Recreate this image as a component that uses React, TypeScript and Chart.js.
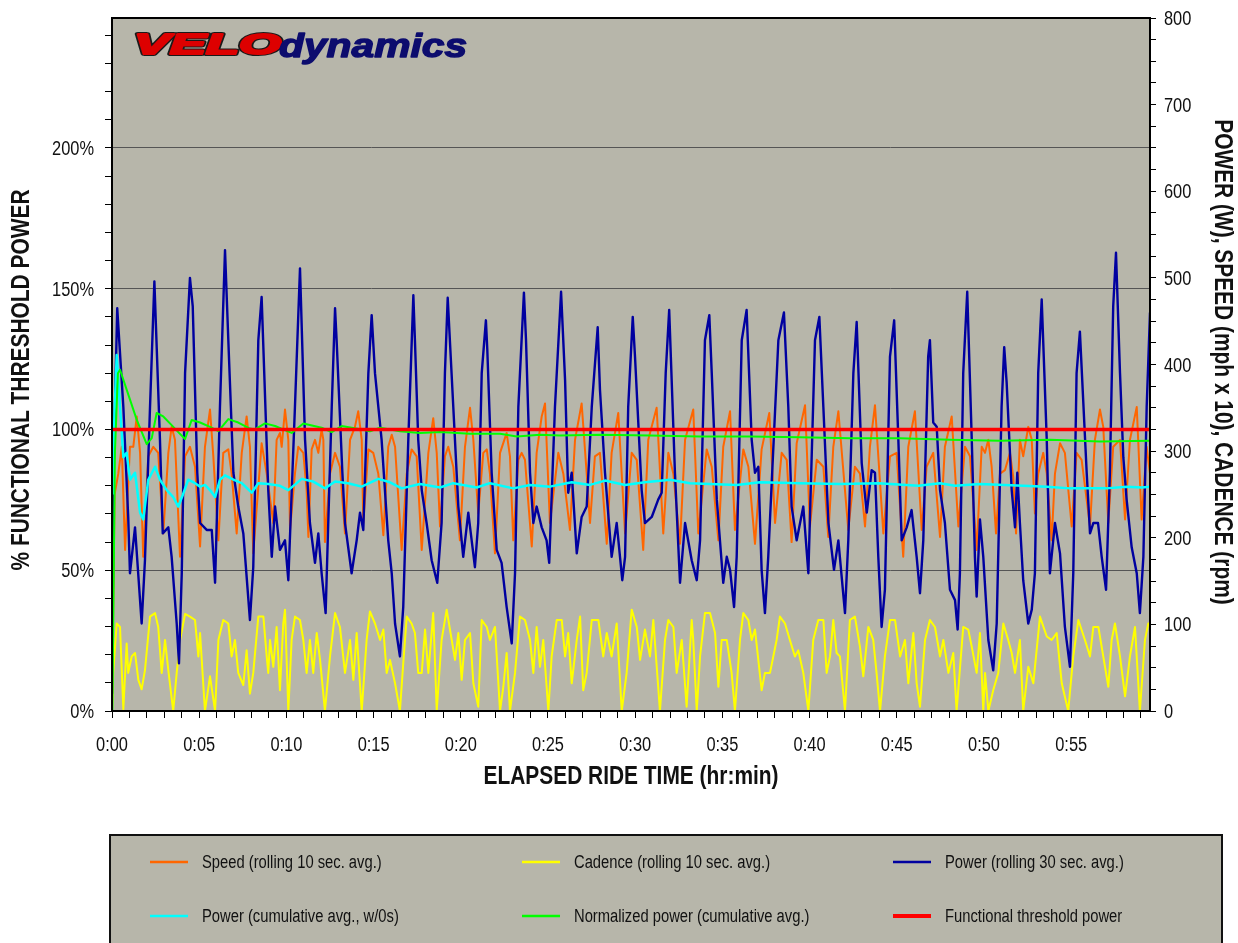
import React, { useEffect, useRef } from "react";
import { Chart, registerables } from "chart.js";

Chart.register(...registerables);

// ---------- DATA ----------
const FTP = 325; // watts (100%)
const X_MAX = 59.52; // minutes
const RIGHT_MAX = 800;

// [minutes, watts] power rolling 30 s
const powerData: [number, number][] = [
  [0, 20], [0.11, 300], [0.3, 465], [0.65, 351], [0.93, 224], [1.03, 159], [1.32, 212], [1.7, 101], [1.89, 174],
  [2.18, 351], [2.43, 496], [2.75, 313], [2.91, 205], [3.23, 212], [3.42, 178], [3.71, 101], [3.84, 55], [4.0, 159],
  [4.19, 390], [4.47, 500], [4.63, 467], [4.89, 275], [5.05, 217], [5.43, 209], [5.72, 209], [5.91, 148], [6.19, 351],
  [6.48, 532], [6.67, 428], [6.96, 275], [7.24, 236], [7.53, 205], [7.91, 105], [8.1, 166], [8.39, 428], [8.58, 478],
  [8.96, 255], [9.16, 178], [9.35, 236], [9.63, 186], [9.92, 197], [10.11, 151], [10.49, 351], [10.78, 511], [11.07, 313],
  [11.35, 217], [11.64, 171], [11.83, 205], [12.02, 159], [12.25, 113], [12.4, 217], [12.6, 351], [12.79, 465], [12.88, 428],
  [13.21, 275], [13.36, 217], [13.74, 159], [14.03, 197], [14.22, 229], [14.41, 209], [14.7, 390], [14.89, 457], [15.08, 390],
  [15.46, 313], [15.84, 197], [16.04, 159], [16.23, 101], [16.51, 63], [16.7, 120], [16.99, 313], [17.28, 480], [17.37, 428],
  [17.56, 313], [17.76, 255], [18.04, 217], [18.33, 174], [18.65, 148], [18.9, 217], [19.09, 390], [19.25, 477], [19.57, 351],
  [19.86, 236], [20.14, 178], [20.43, 229], [20.81, 166], [21.0, 217], [21.2, 390], [21.44, 451], [21.52, 417], [21.77, 275],
  [22.06, 186], [22.34, 171], [22.63, 120], [22.92, 78], [23.11, 159], [23.3, 351], [23.62, 483], [23.74, 428], [23.97, 275],
  [24.16, 217], [24.35, 236], [24.64, 212], [24.92, 197], [25.07, 171], [25.4, 351], [25.75, 484], [25.98, 382], [26.16, 252],
  [26.36, 275], [26.65, 182], [26.93, 224], [27.22, 236], [27.51, 351], [27.85, 443], [27.98, 371], [28.27, 275], [28.65, 178],
  [28.94, 217], [29.26, 151], [29.42, 178], [29.6, 351], [29.86, 455], [29.99, 409], [30.37, 255], [30.56, 217], [30.95, 224],
  [31.32, 244], [31.52, 252], [31.75, 390], [31.95, 463], [32.28, 275], [32.57, 148], [32.86, 217], [33.24, 174], [33.53, 151],
  [33.72, 197], [34.0, 428], [34.25, 457], [34.39, 390], [34.68, 244], [34.86, 197], [35.05, 148], [35.25, 178], [35.44, 163],
  [35.67, 120], [35.82, 178], [36.11, 428], [36.39, 463], [36.68, 313], [36.87, 275], [37.06, 282], [37.25, 163], [37.44, 113],
  [37.63, 178], [38.21, 428], [38.53, 460], [38.78, 351], [38.97, 236], [39.26, 197], [39.64, 236], [39.93, 159], [40.31, 428],
  [40.56, 455], [40.79, 351], [41.08, 217], [41.4, 163], [41.65, 197], [42.03, 113], [42.22, 197], [42.51, 390], [42.7, 449],
  [42.99, 286], [43.28, 229], [43.56, 278], [43.75, 275], [43.94, 178], [44.13, 97], [44.32, 140], [44.61, 409], [44.85, 451],
  [45.09, 313], [45.28, 197], [45.57, 212], [45.85, 232], [46.14, 178], [46.33, 136], [46.52, 197], [46.8, 409], [46.9, 428],
  [47.09, 333], [47.29, 328], [47.48, 255], [47.76, 217], [48.05, 140], [48.34, 128], [48.49, 94], [48.62, 159], [48.81, 390],
  [49.04, 484], [49.3, 313], [49.48, 178], [49.58, 132], [49.77, 221], [49.96, 178], [50.25, 82], [50.53, 47], [50.73, 101],
  [51.01, 351], [51.16, 420], [51.3, 379], [51.59, 255], [51.78, 212], [51.91, 275], [52.06, 217], [52.25, 151], [52.54, 101],
  [52.74, 117], [52.92, 159], [53.11, 390], [53.31, 475], [53.6, 313], [53.78, 159], [54.07, 217], [54.36, 182], [54.64, 97],
  [54.93, 51], [55.12, 159], [55.31, 390], [55.5, 438], [55.89, 275], [56.08, 205], [56.27, 217], [56.54, 217], [56.75, 178],
  [57.0, 140], [57.22, 275], [57.41, 467], [57.57, 529], [57.8, 390], [57.99, 293], [58.18, 244], [58.47, 189], [58.76, 159],
  [58.94, 113], [59.14, 178], [59.33, 351], [59.52, 460],
];

// [minutes, mph x 10] speed rolling 10 s
const speedData: [number, number][] = [
  [0, 10], [0.15, 250], [0.36, 274], [0.56, 305], [0.75, 186], [1.03, 305], [1.22, 305], [1.42, 340], [1.61, 298], [1.79, 178],
  [2.08, 294], [2.37, 305], [2.65, 298], [2.94, 205], [3.23, 298], [3.42, 328], [3.61, 313], [3.9, 178], [4.19, 294], [4.47, 305],
  [4.76, 282], [5.05, 190], [5.33, 305], [5.62, 348], [5.81, 294], [6.1, 197], [6.38, 298], [6.67, 302], [6.86, 274], [7.15, 205],
  [7.44, 298], [7.72, 340], [7.91, 305], [8.1, 182], [8.58, 309], [8.87, 274], [9.25, 217], [9.44, 313], [9.63, 321], [9.73, 305],
  [9.92, 348], [10.11, 313], [10.21, 209], [10.49, 274], [10.68, 305], [10.97, 298], [11.16, 255], [11.26, 201], [11.45, 302],
  [11.64, 313], [11.83, 298], [12.02, 325], [12.12, 313], [12.21, 195], [12.5, 274], [12.79, 298], [13.07, 282], [13.36, 205],
  [13.65, 313], [13.93, 328], [14.12, 346], [14.32, 313], [14.41, 217], [14.7, 302], [14.98, 298], [15.27, 274], [15.56, 203],
  [15.84, 305], [16.04, 319], [16.23, 305], [16.61, 186], [16.9, 274], [17.18, 302], [17.47, 294], [17.76, 186], [18.14, 298],
  [18.42, 338], [18.62, 298], [18.81, 213], [19.09, 294], [19.28, 305], [19.57, 282], [19.95, 197], [20.24, 305], [20.53, 350],
  [20.72, 313], [21.0, 228], [21.29, 298], [21.49, 302], [21.67, 274], [21.96, 182], [22.25, 298], [22.63, 321], [22.82, 294],
  [23.01, 197], [23.3, 290], [23.49, 298], [23.68, 290], [24.07, 190], [24.35, 298], [24.64, 340], [24.83, 355], [25.11, 217],
  [25.59, 298], [25.88, 274], [26.26, 209], [26.55, 313], [26.93, 355], [27.22, 274], [27.41, 217], [27.69, 294], [27.98, 298],
  [28.37, 193], [28.65, 298], [29.03, 344], [29.42, 205], [29.8, 298], [30.09, 290], [30.46, 186], [30.75, 313], [31.23, 350],
  [31.61, 205], [31.9, 298], [32.19, 274], [32.57, 193], [32.86, 313], [33.33, 348], [33.62, 205], [34.1, 302], [34.39, 282],
  [34.77, 197], [35.05, 305], [35.44, 346], [35.72, 209], [36.2, 302], [36.49, 282], [36.87, 193], [37.25, 302], [37.69, 344],
  [38.02, 217], [38.4, 298], [38.69, 290], [38.97, 195], [39.26, 309], [39.74, 353], [40.02, 213], [40.41, 290], [40.79, 282],
  [41.07, 201], [41.36, 305], [41.65, 346], [42.22, 209], [42.6, 282], [42.89, 274], [43.18, 213], [43.46, 305], [43.75, 353],
  [44.23, 205], [44.61, 294], [44.99, 298], [45.37, 178], [45.66, 305], [46.04, 346], [46.43, 209], [46.71, 282], [47.09, 298],
  [47.48, 201], [47.76, 305], [48.15, 340], [48.53, 213], [48.91, 305], [49.2, 294], [49.58, 186], [49.87, 305], [50.06, 298],
  [50.25, 313], [50.44, 282], [50.69, 205], [50.92, 274], [51.2, 278], [51.49, 298], [51.68, 270], [51.84, 205], [52.06, 313],
  [52.25, 294], [52.54, 328], [52.74, 313], [52.92, 228], [53.11, 274], [53.4, 298], [53.6, 274], [53.88, 197], [54.07, 274],
  [54.36, 309], [54.64, 298], [55.03, 213], [55.31, 298], [55.6, 290], [56.08, 213], [56.36, 313], [56.65, 348], [56.84, 328],
  [57.13, 217], [57.41, 305], [57.8, 313], [58.09, 221], [58.37, 313], [58.76, 351], [59.04, 221], [59.33, 305], [59.52, 274],
];

// [minutes, rpm] cadence rolling 10 s
const cadenceData: [number, number][] = [
  [0, 0], [0.07, 44], [0.27, 101], [0.46, 97], [0.65, 2], [0.84, 78], [0.93, 44], [1.13, 63], [1.32, 67], [1.51, 36], [1.7, 25],
  [1.89, 47], [2.18, 109], [2.47, 113], [2.65, 97], [2.85, 44], [3.04, 82], [3.23, 47], [3.51, 0], [3.71, 44], [3.9, 82],
  [4.19, 112], [4.47, 109], [4.76, 105], [4.95, 63], [5.05, 90], [5.33, 0], [5.62, 40], [5.91, 0], [6.1, 82], [6.38, 105],
  [6.67, 101], [6.86, 63], [7.05, 82], [7.24, 44], [7.53, 30], [7.72, 70], [7.91, 20], [8.1, 44], [8.39, 109], [8.68, 109],
  [8.87, 63], [8.96, 44], [9.06, 82], [9.25, 51], [9.44, 97], [9.63, 24], [9.82, 101], [9.92, 117], [10.11, 0], [10.3, 82],
  [10.49, 109], [10.78, 105], [10.97, 82], [11.16, 44], [11.35, 82], [11.54, 44], [11.74, 90], [11.93, 59], [12.21, 0],
  [12.5, 63], [12.79, 113], [13.07, 97], [13.36, 44], [13.65, 82], [13.84, 36], [14.03, 90], [14.32, 0], [14.6, 82],
  [14.79, 115], [15.08, 101], [15.37, 82], [15.56, 94], [15.75, 44], [15.94, 59], [16.23, 32], [16.51, 0], [16.7, 55],
  [16.9, 109], [17.18, 101], [17.37, 90], [17.56, 44], [17.76, 44], [17.95, 94], [18.14, 44], [18.42, 113], [18.62, 0],
  [18.9, 82], [19.19, 117], [19.48, 82], [19.67, 59], [19.86, 90], [20.05, 36], [20.24, 82], [20.53, 90], [20.72, 32],
  [21.0, 5], [21.2, 105], [21.49, 97], [21.67, 82], [21.96, 97], [22.25, 0], [22.44, 28], [22.63, 67], [22.82, 0],
  [23.11, 44], [23.39, 109], [23.68, 105], [23.97, 82], [24.16, 44], [24.35, 97], [24.54, 51], [24.73, 82], [25.02, 0],
  [25.21, 63], [25.5, 105], [25.79, 105], [25.98, 63], [26.16, 90], [26.36, 32], [26.65, 82], [26.84, 109], [27.02, 24],
  [27.22, 44], [27.51, 105], [27.89, 105], [28.17, 63], [28.37, 90], [28.65, 63], [28.94, 101], [29.23, 0], [29.51, 44],
  [29.8, 117], [30.09, 97], [30.28, 59], [30.56, 94], [30.85, 63], [31.04, 105], [31.42, 0], [31.71, 82], [31.9, 105],
  [32.19, 97], [32.38, 44], [32.67, 82], [32.95, 5], [33.24, 105], [33.33, 82], [33.53, 0], [33.72, 63], [34.0, 113],
  [34.29, 113], [34.58, 90], [34.77, 28], [34.96, 82], [35.25, 82], [35.53, 44], [35.72, 0], [36.01, 82], [36.2, 113],
  [36.49, 105], [36.68, 82], [36.87, 94], [37.25, 24], [37.44, 44], [37.73, 44], [38.11, 82], [38.3, 109], [38.59, 101],
  [38.87, 82], [39.16, 63], [39.35, 70], [39.64, 44], [39.93, 0], [40.21, 82], [40.5, 105], [40.79, 105], [40.98, 44],
  [41.17, 63], [41.36, 105], [41.55, 67], [41.74, 63], [42.03, 0], [42.31, 105], [42.6, 109], [42.89, 74], [43.08, 40],
  [43.37, 97], [43.65, 82], [43.84, 44], [44.04, 0], [44.32, 63], [44.61, 105], [44.9, 105], [45.19, 63], [45.47, 82],
  [45.66, 32], [45.95, 90], [46.14, 32], [46.33, 5], [46.62, 82], [46.9, 105], [47.19, 97], [47.48, 63], [47.67, 82],
  [47.96, 44], [48.24, 67], [48.43, 0], [48.81, 97], [49.1, 94], [49.3, 74], [49.58, 44], [49.77, 90], [49.96, 0],
  [50.06, 44], [50.25, 0], [50.53, 24], [50.82, 44], [51.11, 101], [51.39, 82], [51.59, 67], [51.78, 44], [52.06, 82],
  [52.25, 0], [52.54, 51], [52.83, 32], [53.21, 109], [53.6, 86], [53.88, 82], [54.17, 90], [54.46, 32], [54.83, 0],
  [55.12, 63], [55.41, 105], [55.79, 82], [56.08, 63], [56.27, 97], [56.56, 97], [56.84, 63], [57.13, 28], [57.32, 82],
  [57.51, 101], [57.8, 63], [58.09, 17], [58.37, 63], [58.66, 97], [58.94, 0], [59.23, 82], [59.42, 101], [59.52, 101],
];

// [minutes, watts] power cumulative average (w/o zeros)
const powerCumData: [number, number][] = [
  [0.05, 250], [0.12, 330], [0.27, 411], [0.46, 351], [0.65, 293], [0.84, 298], [1.03, 267], [1.32, 275], [1.61, 229],
  [1.79, 221], [2.08, 267], [2.47, 282], [2.75, 267], [3.14, 255], [3.51, 247], [3.8, 236], [4.07, 250], [4.37, 267],
  [4.76, 263], [5.05, 259], [5.33, 261], [5.62, 255], [5.91, 247], [6.19, 267], [6.48, 272], [6.96, 267], [7.44, 263],
  [8.01, 252], [8.39, 263], [8.96, 262], [9.63, 260], [10.11, 255], [10.88, 268], [11.52, 265], [12.21, 257], [12.79, 265],
  [13.53, 263], [14.32, 259], [15.27, 268], [15.94, 264], [16.61, 257], [17.66, 262], [18.81, 258], [19.57, 263],
  [20.91, 258], [21.67, 263], [23.01, 257], [23.97, 261], [25.11, 259], [26.36, 264], [27.41, 261], [28.27, 266],
  [29.42, 261], [30.56, 264], [32.0, 267], [33.14, 263], [35.82, 261], [37.16, 264], [39.45, 263], [41.74, 262],
  [43.94, 263], [46.24, 260], [47.48, 263], [48.34, 260], [49.77, 262], [52.25, 260], [53.6, 259], [54.93, 257],
  [57.0, 257], [58.18, 259], [59.04, 258], [59.52, 259],
];

// [minutes, watts] normalized power cumulative average
const normPowerData: [number, number][] = [
  [0.02, 0], [0.17, 300], [0.34, 390], [0.46, 394], [0.84, 371], [1.42, 336], [1.99, 308], [2.28, 315], [2.56, 344],
  [2.94, 340], [3.42, 330], [3.8, 322], [4.19, 314], [4.57, 336], [5.05, 333], [5.62, 328], [6.1, 323], [6.67, 337],
  [7.24, 333], [7.91, 326], [8.2, 325], [8.77, 332], [9.35, 329], [10.3, 321], [10.97, 332], [12.02, 327], [12.6, 322],
  [13.17, 329], [14.32, 325], [14.79, 323], [15.37, 327], [16.51, 323], [17.66, 321], [18.81, 322], [20.53, 320],
  [22.25, 320], [23.21, 317], [24.54, 319], [25.69, 318], [27.98, 319], [30.85, 318], [33.72, 317], [36.6, 317],
  [39.45, 316], [42.32, 315], [45.19, 315], [48.05, 313], [50.92, 312], [53.79, 313], [56.65, 311], [59.52, 312],
];

const ftpData: [number, number][] = [[0, FTP], [X_MAX, FTP]];

const xTickValues = [0, 5, 10, 15, 20, 25, 30, 35, 40, 45, 50, 55];
const xTickLabels = ["0:00", "0:05", "0:10", "0:15", "0:20", "0:25", "0:30", "0:35", "0:40", "0:45", "0:50", "0:55"];
const leftTickValues = [0, 50, 100, 150, 200];
const leftTickLabels = ["0%", "50%", "100%", "150%", "200%"];
const rightTickValues = [0, 100, 200, 300, 400, 500, 600, 700, 800];
const rightTickLabels = ["0", "100", "200", "300", "400", "500", "600", "700", "800"];

const seriesLabels = [
  "Speed (rolling 10 sec. avg.)",
  "Cadence (rolling 10 sec. avg.)",
  "Power (rolling 30 sec. avg.)",
  "Power (cumulative avg., w/0s)",
  "Normalized power (cumulative avg.)",
  "Functional threshold power",
];
const seriesColors = ["#ff6600", "#ffff00", "#0000a0", "#00ffff", "#00ff00", "#ff0000"];

const TITLE_X = "ELAPSED RIDE TIME (hr:min)";
const TITLE_LEFT = "% FUNCTIONAL THRESHOLD POWER";
const TITLE_RIGHT = "POWER (W), SPEED (mph x 10), CADENCE (rpm)";

// ---------- STYLE ----------
const FONT = '"Liberation Sans", Arial, sans-serif';
const NARROW = 0.82;
const BG = "#b7b6aa";
const GRID = "#555555";
const TEXT = "#111111";

function drawText(
  ctx: CanvasRenderingContext2D,
  text: string,
  x: number,
  y: number,
  align: CanvasTextAlign,
  font: string,
  color: string,
  rot = 0,
  baseline: CanvasTextBaseline = "alphabetic"
) {
  ctx.save();
  ctx.translate(x, y);
  if (rot) ctx.rotate(rot);
  ctx.scale(NARROW, 1);
  ctx.font = font;
  ctx.fillStyle = color;
  ctx.textAlign = align;
  ctx.textBaseline = baseline;
  ctx.fillText(text, 0, 0);
  ctx.restore();
}

const overlayPlugin = {
  id: "overlay",
  beforeDraw(chart: any) {
    const { ctx, chartArea: a } = chart;
    ctx.save();
    ctx.fillStyle = "#ffffff";
    ctx.fillRect(0, 0, chart.width, chart.height);
    ctx.fillStyle = BG;
    ctx.fillRect(a.left, a.top, a.right - a.left, a.bottom - a.top);
    ctx.restore();
  },
  afterDraw(chart: any) {
    const { ctx, chartArea: a, scales } = chart;
    const xs = scales.x;
    const yr = scales.y;
    const yl = scales.yL;
    ctx.save();
    // plot border
    ctx.strokeStyle = "#000";
    ctx.lineWidth = 2;
    ctx.strokeRect(a.left, a.top, a.right - a.left, a.bottom - a.top);

    // tick labels
    const tickFont = `20px ${FONT}`;
    leftTickValues.forEach((v, i) =>
      drawText(ctx, leftTickLabels[i], 94, yl.getPixelForValue(v) + 7, "right", tickFont, TEXT)
    );
    rightTickValues.forEach((v, i) =>
      drawText(ctx, rightTickLabels[i], 1164, yr.getPixelForValue(v) + 7, "left", tickFont, TEXT)
    );
    xTickValues.forEach((v, i) =>
      drawText(ctx, xTickLabels[i], xs.getPixelForValue(v), 751, "center", tickFont, TEXT)
    );

    // axis titles
    const titleFont = `bold 25.5px ${FONT}`;
    drawText(ctx, TITLE_X, 631, 777, "center", titleFont, TEXT, 0, "middle");
    drawText(ctx, TITLE_LEFT, 22, 380, "center", titleFont, TEXT, -Math.PI / 2, "middle");
    drawText(ctx, TITLE_RIGHT, 1222, 362, "center", titleFont, TEXT, Math.PI / 2, "middle");

    // logo
    ctx.save();
    ctx.translate(134, 54);
    ctx.scale(1.8, 1);
    ctx.font = `italic bold 30px ${FONT}`;
    ctx.textBaseline = "alphabetic";
    ctx.lineJoin = "round";
    ctx.strokeStyle = "#1a1a1a";
    ctx.lineWidth = 4.2;
    ctx.strokeText("VELO", 0, 0);
    ctx.strokeStyle = "#dd0000";
    ctx.lineWidth = 2.2;
    ctx.strokeText("VELO", 0, 0);
    ctx.fillStyle = "#dd0000";
    ctx.fillText("VELO", 0, 0);
    ctx.restore();
    ctx.save();
    ctx.translate(279, 57);
    ctx.scale(1.2, 1);
    ctx.font = `italic bold 34px ${FONT}`;
    ctx.lineJoin = "round";
    ctx.fillStyle = "#0c0c6e";
    ctx.strokeStyle = "#0c0c6e";
    ctx.lineWidth = 1.4;
    ctx.strokeText("dynamics", 0, 0);
    ctx.fillText("dynamics", 0, 0);
    ctx.restore();

    // legend box
    ctx.fillStyle = BG;
    ctx.fillRect(110, 835, 1112, 120);
    ctx.strokeStyle = "#111";
    ctx.lineWidth = 2;
    ctx.strokeRect(110, 835, 1112, 120);
    const cols = [150, 522, 893];
    const rows = [862, 916];
    for (let i = 0; i < 6; i++) {
      const cx = cols[i % 3];
      const cy = rows[Math.floor(i / 3)];
      ctx.strokeStyle = seriesColors[i];
      ctx.lineWidth = i === 5 ? 4 : 2.5;
      ctx.beginPath();
      ctx.moveTo(cx, cy);
      ctx.lineTo(cx + 38, cy);
      ctx.stroke();
      drawText(ctx, seriesLabels[i], cx + 52, cy + 1, "left", `18px ${FONT}`, TEXT, 0, "middle");
    }
    ctx.restore();
  },
};

const toPoints = (d: [number, number][]) => d.map(([x, y]) => ({ x, y }));

export default function App() {
  const canvasRef = useRef<HTMLCanvasElement>(null);

  useEffect(() => {
    const canvas = canvasRef.current;
    if (!canvas) return;
    const common = {
      pointRadius: 0,
      pointHoverRadius: 0,
      tension: 0,
      fill: false,
      xAxisID: "x",
      yAxisID: "y",
      borderJoinStyle: "round" as const,
    };
    const chart = new Chart(canvas, {
      type: "line",
      data: {
        datasets: [
          { ...common, label: seriesLabels[5], data: toPoints(ftpData), borderColor: seriesColors[5], borderWidth: 3.5, order: 0 },
          { ...common, label: seriesLabels[4], data: toPoints(normPowerData), borderColor: seriesColors[4], borderWidth: 2, order: 1 },
          { ...common, label: seriesLabels[3], data: toPoints(powerCumData), borderColor: seriesColors[3], borderWidth: 2.5, order: 2 },
          { ...common, label: seriesLabels[2], data: toPoints(powerData), borderColor: seriesColors[2], borderWidth: 2.4, order: 3 },
          { ...common, label: seriesLabels[1], data: toPoints(cadenceData), borderColor: seriesColors[1], borderWidth: 2, order: 4 },
          { ...common, label: seriesLabels[0], data: toPoints(speedData), borderColor: seriesColors[0], borderWidth: 2, order: 5 },
        ],
      },
      options: {
        responsive: false,
        animation: false,
        events: [],
        layout: { padding: { top: 18, left: 0, right: 0, bottom: 0 } },
        plugins: { legend: { display: false }, tooltip: { enabled: false }, title: { display: false } },
        scales: {
          x: {
            type: "linear",
            position: "bottom",
            min: 0,
            max: X_MAX,
            ticks: { display: false, stepSize: 1, includeBounds: false },
            grid: { drawOnChartArea: false, drawTicks: true, tickLength: 7, tickColor: "#000", color: "#000", lineWidth: 1 },
            border: { display: false },
            afterFit: (s: any) => {
              s.height = 232;
            },
          },
          yL: {
            type: "linear",
            position: "left",
            min: 0,
            max: (RIGHT_MAX / FTP) * 100,
            ticks: { display: false, stepSize: 10, includeBounds: false },
            grid: {
              drawTicks: true,
              tickLength: 7,
              lineWidth: 1,
              tickColor: "#000",
              color: (c: any) =>
                c.tick && c.tick.value > 0 && Math.round(c.tick.value) % 50 === 0 ? GRID : "rgba(0,0,0,0)",
            },
            border: { display: false },
            afterFit: (s: any) => {
              s.width = 112;
            },
          },
          y: {
            type: "linear",
            position: "right",
            min: 0,
            max: RIGHT_MAX,
            ticks: { display: false, stepSize: 25, includeBounds: false },
            grid: { drawOnChartArea: false, drawTicks: true, tickLength: 6, tickColor: "#000", color: "#000", lineWidth: 1 },
            border: { display: false },
            afterFit: (s: any) => {
              s.width = 88;
            },
          },
        },
      } as any,
      plugins: [overlayPlugin],
    });
    return () => chart.destroy();
  }, []);

  return (
    <div style={{ position: "absolute", left: 0, top: 0, width: 1238, height: 943, background: "#fff", overflow: "hidden" }}>
      <canvas ref={canvasRef} width={1238} height={943} style={{ width: 1238, height: 943, display: "block" }} />
    </div>
  );
}
